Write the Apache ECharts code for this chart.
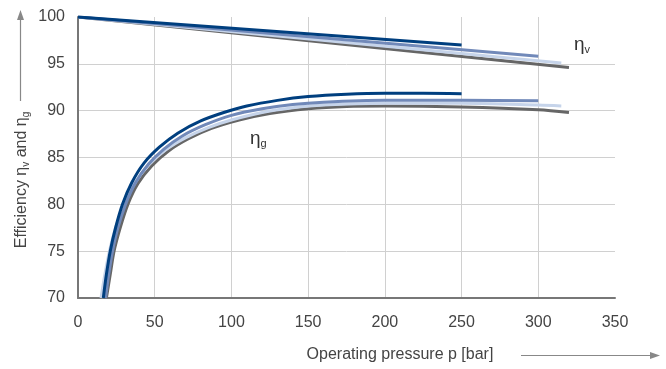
<!DOCTYPE html>
<html>
<head>
<meta charset="utf-8">
<script src="https://cdn.jsdelivr.net/npm/echarts@6/dist/echarts.min.js"></script>
<style>
  html, body { margin: 0; padding: 0; background: #fff; }
</style>
</head>
<body>
<div id="myECharts" style="width: 666px;height:369px;"></div>
<script>
// volumetric efficiency eta_v  [pressure bar, %]
var etaVNavy = [[0, 100], [250, 97.0]]
var etaVMid = [[0, 100], [300, 95.8]]
var etaVLight = [[0, 100], [315, 95.1]]
var etaVGrey = [[0, 100], [320, 94.6]]

// overall efficiency eta_g  [pressure bar, %]
var etaGNavy = [[16.5, 70], [18.5, 72.5], [21, 75], [24.5, 77.5], [29, 80], [35, 82.3], [43, 84.4], [53, 86.1],
  [65, 87.6], [80, 88.9], [95, 89.8], [110, 90.5], [130, 91.1], [150, 91.5], [175, 91.75], [200, 91.85],
  [225, 91.85], [250, 91.8]]
var etaGMid = [[18, 70], [20, 72.5], [22.5, 75], [26, 77.5], [31, 80], [37.5, 82.3], [46, 84.3], [56, 85.9],
  [68, 87.3], [83, 88.5], [100, 89.5], [120, 90.2], [140, 90.65], [160, 90.9], [200, 91.1], [250, 91.1],
  [300, 91.05]]
var etaGLight = [[15, 70], [17.5, 72.5], [20.5, 75], [24.5, 77.5], [30, 80], [37, 82.3], [46, 84.2], [57, 85.8],
  [70, 87.1], [85, 88.2], [100, 89.0], [120, 89.8], [140, 90.3], [160, 90.6], [200, 90.8], [250, 90.8],
  [300, 90.6], [315, 90.5]]
var etaGGrey = [[18.5, 70], [21, 72.5], [23.5, 75], [27.5, 77.5], [32.5, 80], [39, 82.2], [48, 84.1], [59, 85.7],
  [72, 87.0], [87, 88.1], [105, 89.0], [125, 89.7], [150, 90.2], [175, 90.45], [200, 90.5], [250, 90.4],
  [300, 90.1], [320, 89.8]]

var colNavy = '#003f7f'
var colMid = '#7189b9'
var colLight = '#c6d4ea'
var colGrey = '#666666'

function line(data, color, z) {
  return {
    type: 'line',
    data: data,
    smooth: 0.3,
    symbol: 'none',
    z: z,
    lineStyle: { color: color, width: 3 }
  }
}

var textFont = 'Liberation Sans'
var chart = echarts.init(document.getElementById('myECharts'))
chart.setOption({
  animation: false,
  grid: { left: 78, right: 51, top: 17, bottom: 71 },
  xAxis: {
    type: 'value',
    min: 0,
    max: 350,
    interval: 50,
    axisLine: { lineStyle: { color: '#777', width: 2 } },
    axisTick: { show: false },
    axisLabel: { color: '#444', fontSize: 16, fontFamily: textFont, margin: 17 },
    splitLine: { show: true, showMaxLine: false, lineStyle: { color: '#d0d0d0', width: 1 } }
  },
  yAxis: {
    type: 'value',
    min: 70,
    max: 100,
    interval: 5,
    axisLine: { show: true, lineStyle: { color: '#777', width: 2 } },
    axisTick: { show: false },
    axisLabel: { color: '#444', fontSize: 16, fontFamily: textFont, margin: 13 },
    splitLine: { show: true, showMaxLine: false, lineStyle: { color: '#d0d0d0', width: 1 } }
  },
  series: [
    line(etaVGrey, colGrey, 2),
    line(etaVLight, colLight, 3),
    line(etaVMid, colMid, 4),
    line(etaVNavy, colNavy, 5),
    line(etaGGrey, colGrey, 2),
    line(etaGLight, colLight, 3),
    line(etaGMid, colMid, 4),
    line(etaGNavy, colNavy, 5)
  ],
  graphic: [
    {
      type: 'text', left: 574, top: 35,
      style: {
        text: '{a|η}{b|v}',
        rich: {
          a: { fontSize: 19, fontFamily: textFont, fill: '#333' },
          b: { fontSize: 11, fontFamily: textFont, fill: '#333', padding: [11, 0, 0, 0] }
        }
      }
    },
    {
      type: 'text', left: 250, top: 129,
      style: {
        text: '{a|η}{b|g}',
        rich: {
          a: { fontSize: 19, fontFamily: textFont, fill: '#333' },
          b: { fontSize: 11, fontFamily: textFont, fill: '#333', padding: [11, 0, 0, 0] }
        }
      }
    },
    {
      type: 'text', x: 22, y: 180, rotation: Math.PI / 2,
      style: {
        text: '{a|Efficiency η}{b|v}{a| and η}{b|g}',
        align: 'center', verticalAlign: 'middle',
        rich: {
          a: { fontSize: 16, fontFamily: textFont, fill: '#444' },
          b: { fontSize: 10, fontFamily: textFont, fill: '#444', padding: [9, 0, 0, 0] }
        }
      }
    },
    {
      type: 'text', x: 400, y: 355,
      style: {
        text: 'Operating pressure p [bar]',
        align: 'center', verticalAlign: 'middle',
        fontSize: 16, fontFamily: textFont, fill: '#444'
      }
    },
    // x-axis arrow
    { type: 'line', shape: { x1: 521, y1: 355.5, x2: 652, y2: 355.5 }, style: { stroke: '#888', lineWidth: 1.2 } },
    { type: 'polygon', shape: { points: [[660, 355.5], [650, 352], [650, 359]] }, style: { fill: '#888' } },
    // y-axis arrow
    { type: 'line', shape: { x1: 20.5, y1: 101, x2: 20.5, y2: 18 }, style: { stroke: '#888', lineWidth: 1.2 } },
    { type: 'polygon', shape: { points: [[20.5, 10], [17, 20], [24, 20]] }, style: { fill: '#888' } }
  ]
})
</script>
</body>
</html>
